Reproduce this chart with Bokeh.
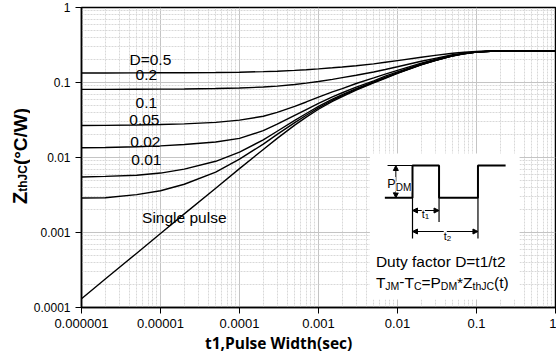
import numpy as np
from bokeh.plotting import figure
from bokeh.layouts import row, column
from bokeh.models import Range1d, FixedTicker, CustomJSTickFormatter, Label, Arrow, NormalHead
from bokeh.embed import file_html
from bokeh.resources import INLINE

# ---------------- data ----------------
t_sec = [1e-6, 2e-6, 5e-6, 1e-5, 2e-5, 5e-5, 1e-4, 2e-4, 3e-4, 5e-4, 7e-4, 1e-3,
         1.5e-3, 2e-3, 3e-3, 5e-3, 7e-3, 1e-2, 2e-2, 3e-2, 5e-2, 7e-2, 1e-1,
         1.5e-1, 2e-1, 3e-1, 5e-1, 1.0]
z_d50 = [0.134, 0.134, 0.1343, 0.1347, 0.1352, 0.136, 0.1372, 0.1395, 0.1415, 0.145, 0.148, 0.152,
         0.157, 0.161, 0.167, 0.177, 0.186, 0.196, 0.217, 0.230, 0.2455, 0.2535, 0.2595,
         0.263, 0.2642, 0.2649, 0.265, 0.265]
z_d20 = [0.081, 0.081, 0.0812, 0.0815, 0.082, 0.083, 0.0845, 0.087, 0.0895, 0.094, 0.098, 0.103,
         0.110, 0.116, 0.125, 0.138, 0.149, 0.162, 0.192, 0.210, 0.234, 0.2465, 0.2565,
         0.2618, 0.2638, 0.2648, 0.265, 0.265]
z_d10 = [0.0267, 0.0268, 0.0271, 0.0275, 0.0281, 0.0294, 0.0315, 0.0355, 0.040, 0.048, 0.055, 0.064,
         0.075, 0.083, 0.097, 0.115, 0.129, 0.145, 0.181, 0.203, 0.230, 0.2445, 0.2551,
         0.2614, 0.2636, 0.2648, 0.265, 0.265]
z_d05 = [0.0135, 0.0136, 0.0139, 0.0143, 0.0149, 0.0161, 0.0180, 0.0228, 0.0278, 0.0365, 0.0435, 0.0525,
         0.0645, 0.0730, 0.0867, 0.1052, 0.1213, 0.1388, 0.1770, 0.1995, 0.2280, 0.2432, 0.2545,
         0.2612, 0.2636, 0.2648, 0.265, 0.265]
z_d02 = [0.0055, 0.0056, 0.0058, 0.0062, 0.0070, 0.0089, 0.0118, 0.0172, 0.0224, 0.0312, 0.0386, 0.0480,
         0.0600, 0.0688, 0.0826, 0.1022, 0.1170, 0.1347, 0.1739, 0.1974, 0.2268, 0.2425, 0.2542,
         0.2611, 0.2635, 0.2648, 0.265, 0.265]
z_d01 = [0.00288, 0.0029, 0.0032, 0.0036, 0.0044, 0.0064, 0.0095, 0.0151, 0.0203, 0.0292, 0.0366, 0.0460,
         0.0580, 0.0669, 0.0809, 0.1007, 0.1155, 0.1334, 0.1729, 0.1967, 0.2264, 0.2422, 0.2541,
         0.2610, 0.2635, 0.2648, 0.265, 0.265]
z_single = [1.31e-4, 2.40e-4, 5.3e-4, 9.7e-4, 1.77e-3, 3.9e-3, 7.1e-3, 0.0128, 0.0180, 0.0270, 0.0345, 0.0440,
            0.0560, 0.0650, 0.0790, 0.0990, 0.1140, 0.1320, 0.1720, 0.1960, 0.2260, 0.2420, 0.2540,
            0.2610, 0.2635, 0.2648, 0.265, 0.265]

curve_labels = ["D=0.5", "0.2", "0.1", "0.05", "0.02", "0.01", "Single pulse"]

x_ticks = [1e-6, 1e-5, 1e-4, 1e-3, 1e-2, 1e-1, 1.0]
x_tick_labels = ["0.000001", "0.00001", "0.0001", "0.001", "0.01", "0.1", "1"]
y_ticks = [1e-4, 1e-3, 1e-2, 1e-1, 1.0]
y_tick_labels = ["0.0001", "0.001", "0.01", "0.1", "1"]

x_title = "t1,Pulse Width(sec)"

# ---------------- layout geometry (page pixels) ----------------
W, H = 556, 358
LW = 30                      # left strip: rotated y title
BH = 25                      # bottom strip: x title
L, R, T, B = 80, 1, 7, 51    # frame edges measured on the page
FW, FH = W - L - R, H - T - B
MW, MH = W - LW, H - BH      # main figure size

p = figure(width=MW, height=MH, x_axis_type="log", y_axis_type="log",
           x_range=Range1d(1e-6, 1.0), y_range=Range1d(1e-4, 1.0),
           output_backend="svg", toolbar_location=None,
           min_border_left=L - LW, min_border_right=R, min_border_top=T,
           min_border_bottom=B - BH)
p.title.text = ""
p.background_fill_color = "white"
p.border_fill_color = "white"
p.outline_line_color = "black"
p.outline_line_width = 1.5


def minor_of(majors):
    out = []
    for m in majors[:-1]:
        out += [k * m for k in range(2, 10)]
    return out


p.xaxis.ticker = FixedTicker(ticks=x_ticks, minor_ticks=minor_of(x_ticks))
p.yaxis.ticker = FixedTicker(ticks=y_ticks, minor_ticks=minor_of(y_ticks))
fmt_code = """
const lt = Math.log10(tick);
for (let i = 0; i < tvals.length; i++) {
  if (Math.abs(Math.log10(tvals[i]) - lt) < 1e-6) return tlabels[i];
}
return "";
"""
p.xaxis.formatter = CustomJSTickFormatter(args=dict(tvals=x_ticks, tlabels=x_tick_labels), code=fmt_code)
p.yaxis.formatter = CustomJSTickFormatter(args=dict(tvals=y_ticks, tlabels=y_tick_labels), code=fmt_code)

for ax, fs in ((p.xaxis, "13px"), (p.yaxis, "12px")):
    ax.major_label_text_font = "Liberation Sans"
    ax.major_label_text_font_size = fs
    ax.major_label_text_color = "black"
    ax.axis_line_color = "black"
    ax.axis_line_width = 1.5
    ax.major_tick_line_color = "black"
    ax.major_tick_in = 0
    ax.major_tick_out = 6
    ax.minor_tick_in = 0
    ax.minor_tick_out = 0
    ax.major_label_standoff = 5

for g in (p.xgrid, p.ygrid):
    g.grid_line_color = "#c4c4c4"
    g.grid_line_width = 1
    g.minor_grid_line_color = "#d8d8d8"
    g.minor_grid_line_dash = "2 1"
    g.minor_grid_line_width = 1


# ---------------- helpers: page pixel -> data ----------------
def fx(px):
    return 10 ** (-6 + (px - L) * 6.0 / FW)


def fy(py):
    return 10 ** (-(py - T) * 4.0 / FH)


# ---------------- curves ----------------
for z in (z_d50, z_d20, z_d10, z_d05, z_d02, z_d01, z_single):
    p.line(t_sec, z, line_color="black", line_width=1.4)

label_px = [(149, 59), (145, 74), (145, 102), (143, 119), (144, 141), (145, 159), (183, 217)]
for txt, (lx, ly_) in zip(curve_labels, label_px):
    p.add_layout(Label(x=fx(lx), y=fy(ly_), text=txt, text_font="Liberation Sans",
                       text_font_size="15.5px", text_align="center", text_baseline="middle",
                       text_color="black"))

# ---------------- text runs with subscripts ----------------
WID_REG = {'T': 611, 'J': 500, 'M': 833, '-': 333, 'C': 722, '=': 584, 'P': 667, 'D': 722,
           '*': 389, 'Z': 611, 't': 278, 'h': 556, '(': 333, ')': 333, '1': 556, '2': 556}
WID_BOLD = {'Z': 611, 't': 333, 'h': 611, 'J': 556, 'C': 722, '(': 333, ')': 333,
            '°': 400, '/': 278, 'W': 944}


def tw(text, size, table):
    return sum(table.get(c, 556) for c in text) * size / 1000.0


def run(px, py, pieces, bg=None):
    for text, size, d in pieces:
        p.add_layout(Label(x=fx(px), y=fy(py + d), text=text, text_font="Liberation Sans",
                           text_font_size=f"{size}px", text_align="left",
                           text_baseline="alphabetic", text_color="black",
                           background_fill_color=bg))
        px += tw(text, size, WID_REG)


# ---------------- inset ----------------
p.quad(left=[fx(369)], right=[fx(519)], top=[fy(153)], bottom=[fy(299)],
       fill_color="white", line_color=None)

hi, lo = 165, 197.3
xa, xb, xc = 411.7, 438.3, 477.3
wave_x = [384, xa, xa, xb, xb, xc, xc, 505]
wave_y = [lo, lo, hi, hi, lo, lo, hi, hi]
p.line([fx(v) for v in wave_x], [fy(v) for v in wave_y], line_color="black", line_width=2)
p.multi_line(xs=[[fx(386.7), fx(xa)], [fx(xa), fx(xa)], [fx(xb), fx(xb)], [fx(xc), fx(xc)]],
             ys=[[fy(hi), fy(hi)], [fy(lo), fy(238)], [fy(lo), fy(221.5)], [fy(lo), fy(238)]],
             line_color="black", line_width=1.2)


def darrow(x0, y0, x1, y1):
    p.add_layout(Arrow(start=NormalHead(size=5, fill_color="black", line_color="black"),
                       end=NormalHead(size=5, fill_color="black", line_color="black"),
                       x_start=fx(x0), y_start=fy(y0), x_end=fx(x1), y_end=fy(y1),
                       line_color="black", line_width=1))


darrow(395, hi, 395, lo)
darrow(xa, 210, xb, 210)
darrow(xa, 231, xc, 231)

run(386.5, 183.5, [("P", 12.5, 0), ("DM", 10, 3)], bg="white")
run(421, 213.5, [("t", 11, 0), ("1", 8, 2.5)], bg="white")
run(443, 235, [("t", 11, 0), ("2", 8, 2.5)], bg="white")

p.add_layout(Label(x=fx(375), y=fy(260.5), text="Duty factor D=t1/t2", text_font="Liberation Sans",
                   text_font_size="15.5px", text_align="left", text_baseline="alphabetic",
                   text_color="black"))
run(375, 281.5, [("T", 15.5, 0), ("JM", 10.5, 3.5), ("-", 15.5, 0), ("T", 15.5, 0),
                 ("C", 10.5, 3.5), ("=", 15.5, 0), ("P", 15.5, 0), ("DM", 10.5, 3.5),
                 ("*", 15.5, 0), ("Z", 15.5, 0), ("thJC", 10.5, 3.5), ("(t)", 15.5, 0)])


def strip(w, h):
    f = figure(width=w, height=h, x_range=Range1d(0, w), y_range=Range1d(0, h),
               output_backend="svg", toolbar_location=None,
               x_axis_location=None, y_axis_location=None,
               min_border_left=0, min_border_right=0, min_border_top=0, min_border_bottom=0)
    f.title.text = ""
    f.xgrid.visible = False
    f.ygrid.visible = False
    f.outline_line_color = None
    f.background_fill_color = "white"
    f.border_fill_color = "white"
    return f


# ---------------- y title strip (x from page left, y from page bottom) ----------------
ly = strip(LW, H)
ypos = 203.5
for text, size, cx in [("Z", 20, 19.0), ("thJC", 12, 22.5), ("(°C/W)", 19, 19.5)]:
    ly.add_layout(Label(x=cx, y=H - ypos, text=text, text_font="Liberation Sans",
                        text_font_size=f"{size}px", text_font_style="bold",
                        text_align="left", text_baseline="middle",
                        angle=np.pi / 2, text_color="black"))
    ypos -= tw(text, size, WID_BOLD)

# ---------------- x title strip ----------------
bx = strip(MW, BH)
bx.add_layout(Label(x=137, y=H - 342.5, text=x_title, text_font="Open Sans",
                    text_font_size="15.5px", text_font_style="bold", text_align="left",
                    text_baseline="middle", text_color="black"))

layout = row(ly, column(p, bx, spacing=0), spacing=0)
open("out.html", "w").write(file_html(layout, INLINE))
